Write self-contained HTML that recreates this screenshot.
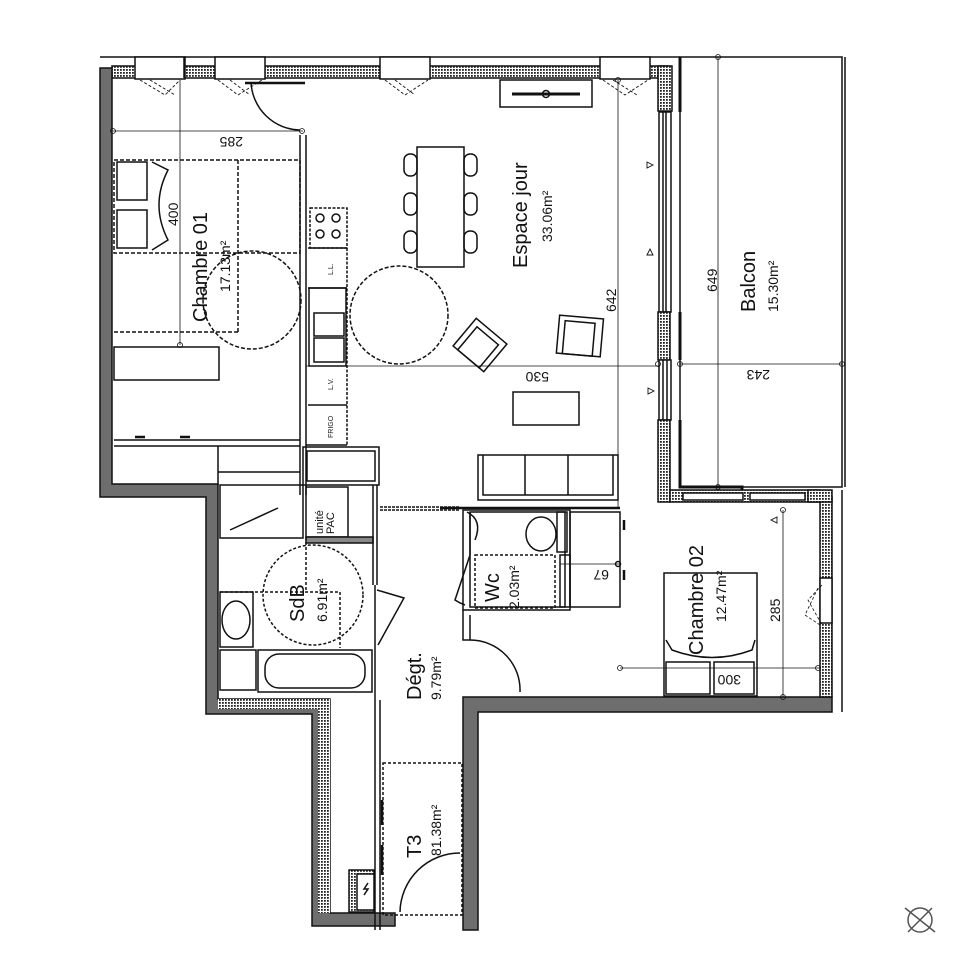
<!DOCTYPE html>
<html><head><meta charset="utf-8"><style>
html,body{margin:0;padding:0;background:#fff}
svg{display:block}
text{font-family:"Liberation Sans",sans-serif;fill:#111}
</style></head><body>
<svg width="980" height="980" viewBox="0 0 980 980" xmlns="http://www.w3.org/2000/svg">
<defs>
<pattern id="h" width="3" height="3" patternUnits="userSpaceOnUse"><rect width="3" height="3" fill="#fff"/><rect width="1.8" height="1.8" fill="#222"/></pattern>
</defs>
<g fill="none" stroke="#111" stroke-width="1.5">

<line x1="100" y1="57" x2="680" y2="57"/>
<rect x="112" y="66" width="556" height="12" fill="url(#h)"/>
<g fill="#fff">
<rect x="135" y="57" width="50" height="22"/>
<rect x="215" y="57" width="50" height="22"/>
<rect x="380" y="57" width="50" height="22"/>
<rect x="600" y="57" width="50" height="22"/>
</g>
<line x1="184" y1="57" x2="184" y2="78"/>
<g stroke-dasharray="3,2" stroke-width="0.9">
<path d="M140 80 L165 95 L180 80 M150 80 L175 95"/>
<path d="M218 80 L238 95 L262 80 M230 80 L250 95"/>
<path d="M385 80 L405 95 L428 80 M395 80 L415 95"/>
<path d="M603 80 L625 95 L648 80 M613 80 L637 95"/>
</g>
<line x1="245" y1="83" x2="305" y2="83" stroke-width="2.5"/>

<path d="M100 68 L112 68 L112 484 L218 484 L218 699 L330 699 L330 913 L395 913 L395 926 L312 926 L312 714 L206 714 L206 497 L100 497 Z" fill="#6e6e6e" stroke="#111"/>
<path d="M218 699 L330 699 L330 913 L318 913 L318 709 L218 709 Z" fill="url(#h)" stroke="none"/>

<path d="M463 930 L463 697 L832 697 L832 712 L478 712 L478 930 Z" fill="#6e6e6e"/>
<rect x="820" y="497" width="12" height="200" fill="url(#h)"/>
<rect x="820" y="578" width="12" height="45" fill="#fff"/>
<line x1="842" y1="490" x2="842" y2="712"/>

<rect x="658" y="66" width="14" height="45" fill="url(#h)"/>
<line x1="680" y1="57" x2="680" y2="112" stroke-width="3"/>
<rect x="659" y="112" width="12" height="200" fill="#fff"/>
<line x1="663" y1="112" x2="663" y2="312"/>
<line x1="666" y1="112" x2="666" y2="312"/>
<rect x="658" y="312" width="12" height="48" fill="url(#h)"/>
<line x1="680" y1="312" x2="680" y2="360" stroke-width="3"/>
<rect x="659" y="360" width="12" height="60" fill="#fff"/>
<line x1="663" y1="360" x2="663" y2="420"/>
<line x1="667" y1="360" x2="667" y2="420"/>
<rect x="658" y="420" width="12" height="82" fill="url(#h)"/>
<path d="M680 420 L680 487 L742 487 L742 502" stroke-width="3"/>
<rect x="680" y="57" width="162" height="430"/>
<line x1="845" y1="57" x2="845" y2="487"/>
<rect x="670" y="490" width="150" height="12" fill="url(#h)"/>
<rect x="683" y="493" width="60" height="7" fill="#fff"/>
<rect x="750" y="493" width="55" height="7" fill="#fff"/>
<rect x="808" y="490" width="24" height="12" fill="url(#h)"/>

<path d="M300 135 L300 495 M306 135 L306 495"/>
<line x1="114" y1="440" x2="300" y2="440"/>
<line x1="114" y1="446" x2="300" y2="446"/>
<rect x="114" y="347" width="105" height="33"/>
<line x1="218" y1="446" x2="218" y2="485"/>
<line x1="218" y1="472" x2="300" y2="472"/>
<path d="M135 437 l10 0 M180 437 l10 0" stroke-width="2.5"/>
<path d="M251 82 A50 50 0 0 0 300 130"/>

<rect x="114" y="160" width="186" height="93" stroke-dasharray="4,2"/>
<rect x="117" y="162" width="30" height="38"/>
<rect x="117" y="210" width="30" height="38"/>
<path d="M152 162 L168 170 Q150 205 168 240 L152 250"/>
<line x1="238" y1="160" x2="238" y2="332" stroke-dasharray="4,2"/>
<line x1="114" y1="332" x2="238" y2="332" stroke-dasharray="4,2"/>
<circle cx="252" cy="300" r="49" stroke-dasharray="4,2"/>
<g stroke-width="0.8">
<line x1="113" y1="131" x2="303" y2="131"/>
<circle cx="113" cy="131" r="2.5"/><circle cx="302" cy="131" r="2.5"/>
<line x1="180" y1="80" x2="180" y2="345"/>
<circle cx="180" cy="345" r="2.5"/>
</g>

<rect x="310" y="208" width="37" height="40" stroke-dasharray="3,1.5"/>
<circle cx="320" cy="218" r="4"/><circle cx="336" cy="218" r="4"/>
<circle cx="320" cy="234" r="4"/><circle cx="336" cy="234" r="4"/>
<path d="M308 248 L347 248 M308 288 L347 288" />
<line x1="347" y1="248" x2="347" y2="445" stroke-dasharray="3,1.5"/>
<rect x="309" y="288" width="37" height="78"/>
<rect x="314" y="313" width="30" height="23"/>
<rect x="314" y="338" width="30" height="24"/>
<line x1="306" y1="366" x2="660" y2="366" stroke-width="0.8"/>
<line x1="308" y1="405" x2="347" y2="405"/>
<line x1="306" y1="445" x2="347" y2="445"/>
<rect x="303" y="447" width="76" height="38"/>
<rect x="307" y="451" width="68" height="30"/>

<rect x="417" y="147" width="47" height="120"/>
<g>
<rect x="404" y="154" width="13" height="22" rx="6"/><rect x="404" y="193" width="13" height="22" rx="6"/><rect x="404" y="231" width="13" height="22" rx="6"/>
<rect x="464" y="154" width="13" height="22" rx="6"/><rect x="464" y="193" width="13" height="22" rx="6"/><rect x="464" y="231" width="13" height="22" rx="6"/>
</g>
<circle cx="399" cy="315" r="49" stroke-dasharray="4,2"/>
<g transform="translate(480 345) rotate(40)"><rect x="-20" y="-18" width="40" height="36"/><rect x="-14" y="-12" width="28" height="30"/></g>
<g transform="translate(580 335) rotate(5)"><rect x="-22" y="-18" width="44" height="38"/><rect x="-16" y="-13" width="30" height="33"/></g>
<rect x="513" y="392" width="66" height="33"/>
<rect x="478" y="455" width="140" height="45"/>
<path d="M483 455 L483 495 L613 495 L613 455 M525 455 L525 495 M568 455 L568 495"/>
<rect x="500" y="80" width="92" height="27"/>
<line x1="512" y1="94" x2="580" y2="94" stroke-width="3"/>
<circle cx="546" cy="94" r="3.5"/>
<g stroke-width="0.8">
<line x1="618" y1="80" x2="618" y2="508"/>
<circle cx="618" cy="80" r="2.5"/>
<line x1="718" y1="57" x2="718" y2="487"/>
<circle cx="718" cy="57" r="2.5"/><circle cx="718" cy="487" r="2.5"/>
<line x1="680" y1="364" x2="842" y2="364"/>
<circle cx="680" cy="364" r="2.5"/><circle cx="842" cy="364" r="2.5"/><circle cx="658" cy="364" r="2.5"/>
</g>
<g stroke-width="0.9">
<path d="M647 162 l6 3 l-6 3 z M647 255 l3 -6 l3 6 z M648 388 l6 3 l-6 3z"/>
</g>

<path d="M380 507 L460 507 M380 510 L460 510" stroke-dasharray="3,1"/>
<line x1="440" y1="508" x2="620" y2="508" stroke-width="2.5"/>
<rect x="220" y="485" width="83" height="53"/>
<line x1="230" y1="530" x2="278" y2="508"/>
<rect x="306" y="487" width="42" height="50"/>
<rect x="306" y="537" width="67" height="6" fill="#888"/>
<line x1="373" y1="485" x2="373" y2="585"/>
<line x1="377" y1="485" x2="377" y2="585"/>
<path d="M220 592 L340 592 L340 648" stroke-dasharray="3,2"/>
<path d="M306 537 L306 592" stroke-dasharray="3,2"/>
<circle cx="313" cy="595" r="50" stroke-dasharray="3,2"/>
<rect x="220" y="592" width="33" height="55"/>
<ellipse cx="236" cy="620" rx="14" ry="19"/>
<rect x="220" y="650" width="36" height="40"/>
<rect x="258" y="650" width="114" height="42"/>
<rect x="265" y="654" width="100" height="34" rx="14"/>
<line x1="375" y1="585" x2="375" y2="930"/>
<line x1="380" y1="700" x2="380" y2="930"/>
<path d="M377 590 L404 598 L378 645"/>
<rect x="463" y="510" width="107" height="100"/>
<rect x="470" y="512" width="95" height="95"/>
<path d="M470 512 L470 555 M470 555 L455 600 A40 40 0 0 0 465 605"/>
<path d="M467 512 Q483 520 475 540" />
<ellipse cx="541" cy="534" rx="15" ry="17"/>
<rect x="557" y="512" width="10" height="40"/>
<rect x="475" y="555" width="80" height="53" stroke-dasharray="3,2"/>
<path d="M463 610 L463 640 L470 640 L470 615"/>
<rect x="560" y="555" width="10" height="52"/>
<rect x="570" y="512" width="50" height="95"/>
<line x1="560" y1="564" x2="620" y2="564" stroke-width="0.8"/>
<circle cx="618" cy="564" r="2.5"/>
<path d="M624 520 l0 10 M624 570 l0 10" stroke-width="2.5"/>
<path d="M470 640 A50 50 0 0 1 520 692"/>
<rect x="383" y="763" width="79" height="152" stroke-dasharray="3,2"/>
<path d="M382 800 l0 25 M382 845 l0 30" stroke-width="2.5"/>
<path d="M400 912 A60 60 0 0 1 460 853"/>
<rect x="349" y="870" width="25" height="42" fill="url(#h)"/>
<rect x="357" y="874" width="17" height="36" fill="#fff"/>
<path d="M368 883 l-4 6 l4 0 l-4 6"/>
<rect x="664" y="573" width="93" height="123"/>
<path d="M666 640 L672 650 Q712 665 752 650 L755 640"/>
<rect x="666" y="662" width="44" height="32"/>
<rect x="714" y="662" width="40" height="32"/>
<g stroke-width="0.8">
<line x1="620" y1="668" x2="820" y2="668"/>
<circle cx="620" cy="668" r="2.5"/><circle cx="818" cy="668" r="2.5"/>
<line x1="783" y1="510" x2="783" y2="697"/>
<circle cx="783" cy="510" r="2.5"/><circle cx="783" cy="697" r="2.5"/>
</g>
<path d="M771 520 l6 -3 l0 6z" stroke-width="0.9"/>
<path d="M822 585 L808 600 L822 625 M818 588 L805 615 L820 625" stroke-dasharray="3,2" stroke-width="0.8"/>
<circle cx="920" cy="920" r="12" stroke="#555"/>
<line x1="905" y1="908" x2="935" y2="932" stroke="#555"/>
<line x1="932" y1="908" x2="908" y2="932" stroke="#555"/>
</g>

<g font-size="20">
<text transform="translate(207 322) rotate(-90)">Chambre 01</text>
<text transform="translate(527 268) rotate(-90)">Espace jour</text>
<text transform="translate(755 312) rotate(-90)">Balcon</text>
<text transform="translate(703 655) rotate(-90)">Chambre 02</text>
<text transform="translate(304 622) rotate(-90)">SdB</text>
<text transform="translate(499 602) rotate(-90)">Wc</text>
<text transform="translate(421 700) rotate(-90)">Dégt.</text>
<text transform="translate(421 858) rotate(-90)">T3</text>
</g>
<g font-size="14">
<text transform="translate(230 292) rotate(-90)">17.13m²</text>
<text transform="translate(552 242) rotate(-90)">33.06m²</text>
<text transform="translate(778 312) rotate(-90)">15.30m²</text>
<text transform="translate(726 622) rotate(-90)">12.47m²</text>
<text transform="translate(327 622) rotate(-90)">6.91m²</text>
<text transform="translate(519 609) rotate(-90)">2.03m²</text>
<text transform="translate(441 700) rotate(-90)">9.79m²</text>
<text transform="translate(441 856) rotate(-90)">81.38m²</text>
<text transform="translate(178 226) rotate(-90)">400</text>
<text transform="translate(616 312) rotate(-90)">642</text>
<text transform="translate(717 292) rotate(-90)">649</text>
<text transform="translate(780 622) rotate(-90)">285</text>
<text transform="translate(243 137) rotate(180)">285</text>
<text transform="translate(549 372) rotate(180)">530</text>
<text transform="translate(770 370) rotate(180)">243</text>
<text transform="translate(741 675) rotate(180)">300</text>
<text transform="translate(609 570) rotate(180)">67</text>
</g>
<g font-size="11">
<text transform="translate(323 534) rotate(-90)">unité</text>
<text transform="translate(334 534) rotate(-90)">PAC</text>
</g>
<g font-size="7">
<text transform="translate(333 275) rotate(-90)">L.L.</text>
<text transform="translate(333 390) rotate(-90)">L.V.</text>
<text transform="translate(333 438) rotate(-90)">FRIGO</text>
</g>
</svg>
</body></html>
